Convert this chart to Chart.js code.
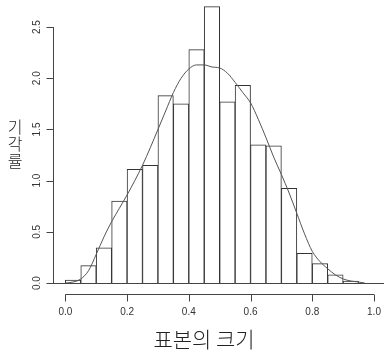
<!DOCTYPE html>
<html>
<head>
<meta charset="utf-8">
<script src="https://cdn.jsdelivr.net/npm/chart.js@4.4.1/dist/chart.umd.min.js"></script>
<style>
  html, body { margin: 0; padding: 0; background: #fff; }
  #wrap { position: relative; width: 384px; height: 352px; }
</style>
</head>
<body>
<div id="wrap"><canvas id="hist" width="384" height="352"></canvas></div>
<script>
// histogram bins (centres, width 0.05) and their densities
const binCenters = [0.025, 0.075, 0.125, 0.175, 0.225, 0.275, 0.325, 0.375, 0.425, 0.475,
                    0.525, 0.575, 0.625, 0.675, 0.725, 0.775, 0.825, 0.875, 0.925, 0.975];
const binDensity = [0.03, 0.17, 0.345, 0.80, 1.11, 1.15, 1.83, 1.75, 2.28, 2.70,
                    1.77, 1.93, 1.35, 1.34, 0.925, 0.29, 0.19, 0.08, 0.02, 0];

// kernel density estimate overlay
const curveX = [0, 0.025, 0.05, 0.075, 0.1, 0.125, 0.15, 0.175, 0.2, 0.225, 0.25, 0.275, 0.3,
                0.325, 0.35, 0.375, 0.4, 0.425, 0.45, 0.475, 0.5, 0.525, 0.55, 0.575, 0.6,
                0.625, 0.65, 0.675, 0.7, 0.725, 0.75, 0.775, 0.8, 0.825, 0.85, 0.875, 0.9,
                0.925, 0.95, 0.97];
const curveY = [0.0, 0.01, 0.04, 0.12, 0.28, 0.45, 0.60, 0.73, 0.86, 1.00, 1.15, 1.32, 1.50,
                1.68, 1.86, 2.00, 2.09, 2.13, 2.13, 2.11, 2.10, 2.05, 1.96, 1.86, 1.76,
                1.60, 1.42, 1.23, 1.06, 0.88, 0.68, 0.48, 0.31, 0.21, 0.14, 0.08, 0.04,
                0.02, 0.01, 0.0];

const xTicks = [0, 0.2, 0.4, 0.6, 0.8, 1.0];
const yTicks = [0, 0.5, 1.0, 1.5, 2.0, 2.5];
const xTitle = '표본의 크기';
const yTitle = ['기', '각', '률'];

// R-style base graphics axes: detached x axis, rotated y labels
const baseAxes = {
  id: 'baseAxes',
  afterDatasetsDraw(chart) {
    const { ctx, chartArea, scales: { x, y } } = chart;
    ctx.save();
    ctx.strokeStyle = '#444';
    ctx.lineWidth = 1;

    // zero line under the bars
    const y0 = Math.round(y.getPixelForValue(0)) + 0.5;
    ctx.beginPath();
    ctx.moveTo(chartArea.left, y0);
    ctx.lineTo(chartArea.right, y0);
    ctx.stroke();

    // y axis
    const ax = Math.round(chartArea.left) + 0.5;
    ctx.beginPath();
    ctx.moveTo(ax, y.getPixelForValue(yTicks[0]));
    ctx.lineTo(ax, y.getPixelForValue(yTicks[yTicks.length - 1]));
    yTicks.forEach(t => {
      const py = Math.round(y.getPixelForValue(t)) + 0.5;
      ctx.moveTo(ax, py);
      ctx.lineTo(ax - 7, py);
    });
    ctx.stroke();

    ctx.fillStyle = '#333';
    ctx.font = '10px "Liberation Sans", Arial, sans-serif';
    ctx.textAlign = 'center';
    ctx.textBaseline = 'middle';
    yTicks.forEach(t => {
      ctx.save();
      ctx.translate(ax - 16, y.getPixelForValue(t));
      ctx.rotate(-Math.PI / 2);
      ctx.fillText(t.toFixed(1), 0, 0);
      ctx.restore();
    });

    // x axis
    const ay = Math.round(chartArea.bottom) + 0.5;
    ctx.beginPath();
    ctx.moveTo(x.getPixelForValue(xTicks[0]), ay);
    ctx.lineTo(x.getPixelForValue(xTicks[xTicks.length - 1]), ay);
    xTicks.forEach(t => {
      const px = Math.round(x.getPixelForValue(t)) + 0.5;
      ctx.moveTo(px, ay);
      ctx.lineTo(px, ay + 7);
    });
    ctx.stroke();
    xTicks.forEach(t => ctx.fillText(t.toFixed(1), x.getPixelForValue(t), ay + 18));

    // axis titles
    ctx.fillStyle = '#222';
    ctx.font = '300 21px "Noto Sans CJK KR", sans-serif';
    ctx.fillText(xTitle, 204, 339);
    ctx.font = '300 16px "Noto Sans CJK KR", sans-serif';
    yTitle.forEach((ch, i) => ctx.fillText(ch, 15, 127 + i * 17));
    ctx.restore();
  }
};

new Chart(document.getElementById('hist'), {
  data: {
    datasets: [
      {
        type: 'line',
        order: 0,
        data: curveX.map((v, i) => ({ x: v, y: curveY[i] })),
        borderColor: '#555',
        borderWidth: 1,
        pointRadius: 0,
        cubicInterpolationMode: 'monotone',
        fill: false
      },
      {
        type: 'bar',
        order: 1,
        data: binCenters.map((v, i) => ({ x: v, y: binDensity[i] })),
        backgroundColor: '#fff',
        borderColor: '#333',
        borderWidth: 1,
        barPercentage: 1,
        categoryPercentage: 1,
        grouped: false
      }
    ]
  },
  options: {
    responsive: false,
    animation: false,
    devicePixelRatio: 1,
    layout: { padding: { left: 53, right: 0, top: 0, bottom: 58 } },
    scales: {
      x: { type: 'linear', display: false, offset: false, min: -0.04, max: 1.0324 },
      y: { type: 'linear', display: false, min: -0.107, max: 2.764 }
    },
    plugins: { legend: { display: false }, tooltip: { enabled: false } }
  },
  plugins: [baseAxes]
});
</script>
</body>
</html>
